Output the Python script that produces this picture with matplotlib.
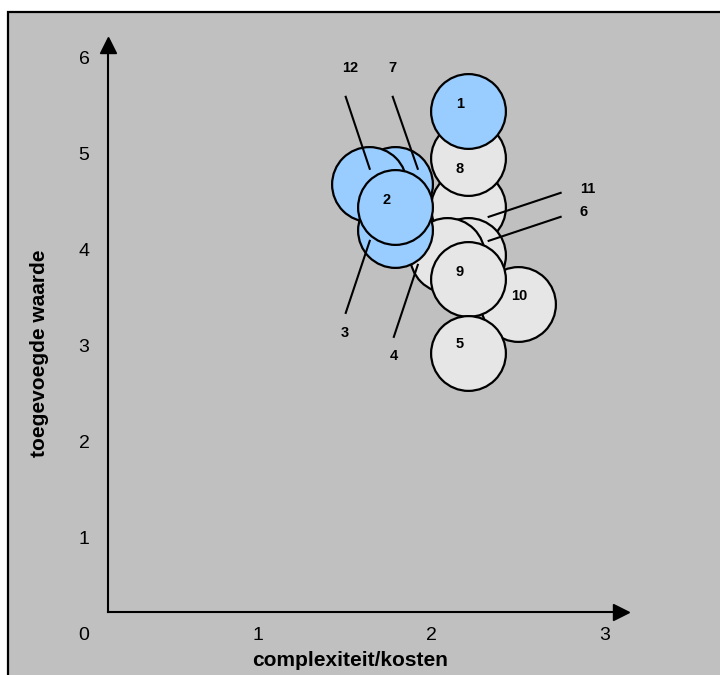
import matplotlib.pyplot as plt
from matplotlib.patches import Rectangle

plt.rcParams['font.family'] = ['Liberation Sans', 'DejaVu Sans']

# bubble data
labels = ['1', '2', '3', '4', '5', '6', '7', '8', '9', '10', '11', '12']
kosten = [2.21, 1.79, 1.79, 2.09, 2.21, 2.21, 1.79, 2.21, 2.21, 2.50, 2.21, 1.64]
waarde = [5.46, 4.46, 4.22, 3.96, 2.94, 3.96, 4.70, 4.97, 3.71, 3.45, 4.46, 4.70]
blauw = ['1', '2', '3', '7', '12']
x_ticks = [0, 1, 2, 3]
y_ticks = [1, 2, 3, 4, 5, 6]

# drawing order (bottom to top)
volgorde = ['11', '8', '1', '6', '4', '10', '9', '5', '7', '12', '3', '2']

# label offsets from bubble centre in pixels (right, down)
label_off = {'1': (-8, -7), '2': (-8, -7), '5': (-8, -9), '8': (-8, 11),
             '9': (-8, -7), '10': (1, -8), '12': (-19, -116), '7': (-2, -116),
             '11': (120, -18), '6': (116, -43), '3': (-50, 103), '4': (-53, 101)}
# leader lines: (start, end) in pixels relative to bubble centre
leader = {'12': ((-23, -87), (1, -15)), '7': ((-2, -87), (23, -15)),
          '11': ((93, -14), (21, 10)), '6': ((93, -38), (21, -14)),
          '3': ((-49, 83), (-25, 11)), '4': ((-53, 82), (-29, 10))}

W, H = 720, 675
x0px, xunit = 84, 173.6
y0px, yunit = 635, 96

fig = plt.figure(figsize=(W / 100, H / 100), dpi=100)
fig.patch.set_facecolor('white')
ax = fig.add_axes([0, 0, 1, 1])
ax.set_xlim(-x0px / xunit, (W - x0px) / xunit)
ax.set_ylim((y0px - H) / yunit, y0px / yunit)
ax.axis('off')


def px(dx, dy):
    return dx / xunit, -dy / yunit


# gray plot area with black border (right/bottom run off the image)
ax.add_patch(Rectangle((8 / W, -0.05), 1.1, 1 - 12 / H + 0.05,
                       transform=fig.transFigure, facecolor='#C0C0C0',
                       edgecolor='black', linewidth=1.6, zorder=0, clip_on=False))

# axis arrows
ax_x = (108 - x0px) / xunit
ax_y = (y0px - 612) / yunit
tip_x = (629 - x0px) / xunit
tip_y = (y0px - 37) / yunit
ax.plot([ax_x, ax_x], [ax_y, tip_y - 0.1], color='black', lw=1.5, zorder=2)
ax.plot([ax_x, tip_x - 0.05], [ax_y, ax_y], color='black', lw=1.5, zorder=2)
ax.plot(ax_x, tip_y - 0.08, marker='^', color='black', markersize=11, zorder=2)
ax.plot(tip_x - 0.045, ax_y, marker='>', color='black', markersize=11, zorder=2)

for t in x_ticks:
    ax.text(t, 0, str(t), ha='center', va='center', fontsize=14)
for t in y_ticks:
    ax.text(0, t, str(t), ha='center', va='center', fontsize=14)

ax.text((350 - x0px) / xunit, (y0px - 660) / yunit, 'complexiteit/kosten',
        ha='center', va='center', fontsize=15, fontweight='bold')
ax.text((40 - x0px) / xunit, (y0px - 353) / yunit, 'toegevoegde waarde',
        ha='center', va='center', fontsize=15, fontweight='bold', rotation=90)

for z, lab in enumerate(volgorde):
    i = labels.index(lab)
    kleur = '#99CCFF' if lab in blauw else '#E6E6E6'
    ax.scatter(kosten[i], waarde[i], s=2900, color=kleur, edgecolor='black',
               linewidth=1.6, zorder=3 + z)

for i, lab in enumerate(labels):
    dx, dy = px(*label_off[lab])
    ax.text(kosten[i] + dx, waarde[i] + dy, lab, ha='center', va='center',
            fontsize=10.5, fontweight='bold', zorder=30)
    if lab in leader:
        (a, b), (c, d) = leader[lab]
        s0, s1 = px(a, b)
        e0, e1 = px(c, d)
        ax.plot([kosten[i] + s0, kosten[i] + e0], [waarde[i] + s1, waarde[i] + e1],
                color='black', lw=1.5, zorder=30)

fig.savefig('out.png', dpi=100)
